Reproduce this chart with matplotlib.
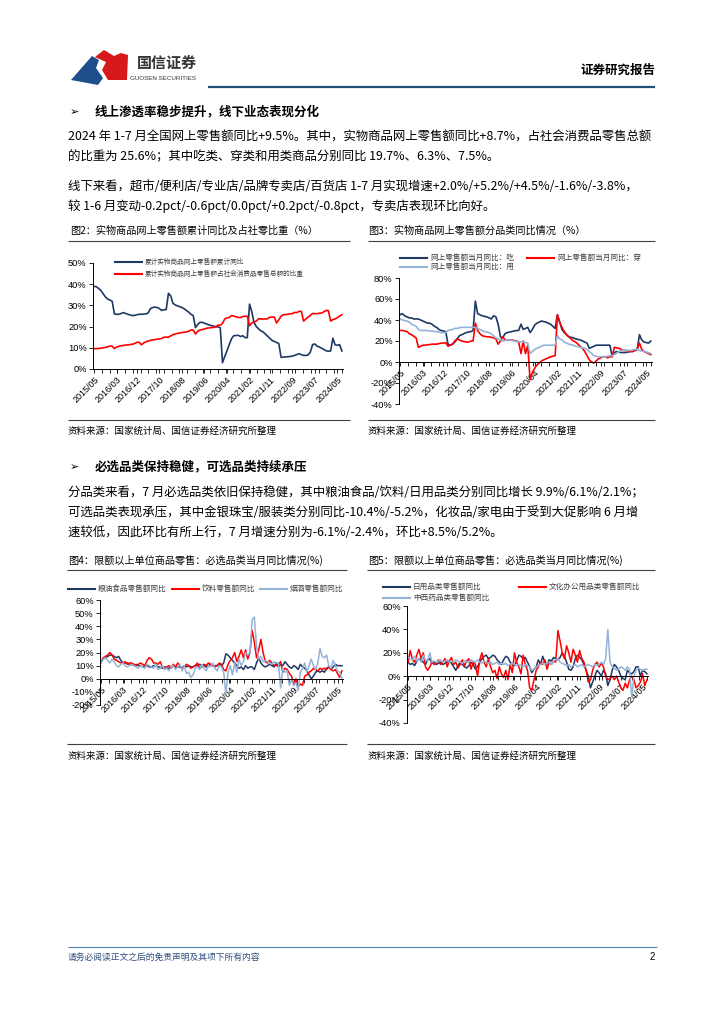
import numpy as np
import matplotlib.pyplot as plt
from matplotlib.patches import Polygon

plt.rcParams['font.family'] = ['Noto Sans CJK SC', 'DejaVu Sans']

# months 2015/05 .. 2024/07
n_months = 111
tick_labels = ['2015/05', '2016/03', '2016/12', '2017/10', '2018/08', '2019/06',
               '2020/04', '2021/02', '2021/11', '2022/09', '2023/07', '2024/05']

# Fig 2: cumulative yoy of online physical goods / share of total retail (%)
online_cum_yoy = [
    39, 38.8, 38, 37, 35.5, 34, 33, 32.5, 32, 26,
    25.8, 25.8, 26.2, 26.6, 26.2, 25.8, 25.5, 25.2, 25.3, 25.6,
    25.8, 25.8, 25.9, 26, 26.4, 28.5, 29, 29.2, 29, 28.5,
    27.6, 28, 28, 35.7, 34.5, 31, 30.2, 29.8, 29.4, 29,
    28.4, 27.6, 26.8, 25.8, 25.2, 19.5, 21, 22, 22, 21.6,
    21.2, 20.8, 20.5, 20.2, 20, 19.8, 19.5, 3, 5.9, 8.6,
    11.5, 14.3, 15.7, 15.8, 15.9, 15.3, 15.7, 14.8, 14.8, 30.6,
    27, 22, 20, 19, 18, 17.5, 16.5, 15.5, 14.5, 13.5,
    13, 12.5, 12, 5.5, 5.6, 5.7, 5.8, 5.9, 6.1, 6.4,
    6.8, 7.2, 6.8, 6.4, 6.4, 6.6, 8, 11.5, 11.8, 10.8,
    10.4, 9.8, 9.2, 8.6, 8.4, 8.5, 14.5, 11.4, 11.2, 11.5, 8.5]
online_share = [
    9.6, 9.6, 9.7, 9.8, 10, 10.2, 10.5, 10.8, 10.8, 9.6,
    10.4, 10.7, 11, 11.1, 11.3, 11.4, 11.5, 11.7, 12, 12.6,
    12.6, 11.4, 12.3, 12.8, 13.2, 13.5, 13.7, 13.9, 14, 14.2,
    14.4, 15, 15, 15, 15.6, 16.2, 16.5, 16.8, 17, 17.2,
    17.3, 17.5, 17.8, 18.4, 18.4, 16.5, 17.8, 18.4, 18.6, 18.9,
    19.2, 19.4, 19.5, 19.6, 19.9, 20.7, 20.7, 21.5, 23.6, 24.1,
    24.3, 25.2, 25, 24.6, 24.3, 24.3, 24.7, 24.9, 24.9, 20.4,
    21.7, 22.2, 22.6, 23.7, 23.6, 23.6, 23.6, 23.7, 24.4, 24.5,
    24.5, 21.7, 23.2, 24.9, 25.6, 25.7, 25.8, 26, 26.1, 26.7,
    26.6, 27.2, 27.2, 22.6, 23.6, 24.5, 25.3, 26.2, 26.1, 26.1,
    26.3, 26.4, 27, 27.6, 27.6, 22.6, 23.3, 23.6, 24.2, 25, 25.6]

# Fig 3: online retail by category (%)
online_eat = [
    45, 46, 44, 43, 42, 42, 41, 41, 41, 40,
    39, 38, 37, 37, 36, 34, 33, 31, 30, 29.5,
    29, 17, 16, 17, 19, 22, 25, 26, 27, 28,
    28.5, 29, 30, 58, 46, 45, 44, 43.5, 43, 42,
    41, 44, 43, 36, 24, 23, 27, 28, 28.5, 29,
    29.5, 30, 30, 36, 31, 32, 33, 28, 31, 35,
    37, 38, 39, 38.5, 38, 37, 36, 34, 32, 45,
    38, 31, 28, 26, 24, 23.5, 23, 22, 21.5, 21,
    20, 19, 18, 13, 14, 15, 16, 16, 16, 16,
    16, 16, 16, 6, 9, 10, 9.5, 9, 9, 9,
    9.5, 10, 10, 11, 12, 26, 21, 19, 18.5, 18, 20]
online_wear = [
    30, 30, 29.5, 29, 27, 26, 24.5, 23, 14, 15,
    16, 16, 16.5, 16.5, 17, 17, 17, 17.5, 18, 18,
    18.5, 15, 16, 17, 20, 22, 21, 20, 19.5, 19,
    19, 20, 20, 37, 30, 27, 25, 24.5, 24, 24,
    23.5, 23, 22, 17, 20, 24, 21, 21, 21, 21,
    20.5, 20, 19, 8, 20, 8, 16, -17, -10, -6,
    -3, -1, 1, 2, 3, 4, 5, 5.5, 6, 45,
    38, 33, 29, 26, 24, 22, 20, 19, 17, 15,
    13, 10, 6, 2, 0, -1, 1, 3, 4, 5,
    5, 4, 5, 5, 14, 13.5, 13, 12, 11, 11,
    10.5, 10, 10, 11, 12, 18, 12, 10, 9, 8, 7]
online_use = [
    41, 40, 39.5, 39, 38, 36, 35, 34, 31, 30,
    30, 30, 30, 29.5, 29.5, 29, 29, 28.5, 28, 28,
    28, 30, 30.5, 31, 32, 32, 32.5, 33, 33, 33,
    33, 33, 33, 33, 32, 31, 30, 29, 28.5, 28,
    27, 25, 23, 22, 21, 20, 20.5, 21, 21, 20.5,
    20, 19.5, 19.5, 19, 19, 18.5, 18, 8, 10, 12,
    13, 14, 15, 16, 16, 16, 16, 16, 16, 25,
    22, 21, 19, 18, 17, 16.5, 16, 15, 14.5, 14,
    13.5, 13, 12, 10, 8, 6, 5.5, 5, 5, 5,
    5, 5.5, 6, 6, 7, 8.5, 10, 11, 11, 11,
    11, 11, 11.5, 12, 12, 11, 10.5, 10, 9.5, 9, 8]

# Fig 4: essentials yoy (%)
grain_food = [
    13, 15, 16, 17, 18, 18, 17, 16, 17, 14,
    12, 12, 12, 11, 11, 10, 11, 10, 10, 9,
    10, 10, 9, 9, 10, 10, 9, 9, 8, 9,
    8, 8, 9, 10, 9, 9, 9, 8, 10, 9,
    10, 9, 9, 10, 10, 11, 10, 10, 9, 10,
    11, 10, 10, 10, 11, 10, 12, 19, 18, 16,
    14, 12, 10, 8, 9, 7, 10, 8, 9, 9,
    7, 12, 16, 12, 10, 9, 10, 11, 10, 9,
    12, 9, 11, 10, 13, 11, 9, 8, 10, 9,
    7, 11, 9, 8, 6, 3, 0, 2, 5, 6,
    5, 6, 5, 8, 9, 7, 9, 11, 10, 10, 9.9]
beverage = [
    13, 16, 17, 18, 20, 18, 15, 14, 13, 12,
    12, 13, 11, 12, 12, 11, 10, 11, 12, 11,
    10, 14, 16, 15, 12, 12, 11, 13, 9, 8,
    9, 10, 8, 11, 9, 12, 10, 8, 9, 11,
    10, 8, 9, 10, 12, 8, 9, 11, 10, 12,
    11, 10, 9, 10, 12, 11, 7, 6, 11, 14,
    16, 20, 13, 17, 22, 16, 22, 15, 20, 37,
    28, 16, 22, 30, 20, 13, 12, 14, 12, 10,
    10, 11, 13, 5, 8, 7, 4, 2, -5, 0,
    -6, -4, -5, 2, 3, 5, 6, 8, 7, 6,
    8, 7, 8, 7, 9, 7, 6, 7, 4, 1, 6.1]
tobacco_liquor = [
    12, 15, 16, 14, 12, 15, 13, 10, 9, 11,
    12, 10, 9, 10, 11, 10, 9, 8, 10, 9,
    8, 11, 10, 9, 8, 11, 7, 8, 10, 7,
    8, 6, 9, 10, 7, 9, 11, 6, 10, 4,
    5, 1, 3, 8, 9, 7, 11, 8, 6, 10,
    9, 12, 8, 6, 10, 9, 5, -12, 5, 10,
    3, 12, 5, 15, 10, 13, 20, 18, 20, 45,
    47, 25, 15, 17, 13, 14, 13, 12, 11, 13,
    12, 12, -7, 8, 5, 6, -5, -1, -5, -3,
    -9, 5, 8, 12, 5, 10, 15, 10, 7, 12,
    23, 17, 16, 18, 10, 8, 14, 10, 6, 5, 0]

# Fig 5 (%)
daily_use = [
    12, 10, 11, 9, 13, 15, 14, 12, 10, 14,
    15, 11, 12, 10, 11, 12, 10, 11, 12, 13,
    11, 8, 5, 9, 12, 10, 8, 7, 9, 12,
    10, 6, 8, 12, 15, 17, 18, 15, 16, 18,
    17, 14, 12, 10, 14, 17, 16, 12, 10, 9,
    13, 18, 17, 15, 16, 12, 8, 3, 6, 8,
    14, 10, 17, 12, 10, 14, 13, 16, 15, 14,
    16, 20, 17, 12, 6, 5, 8, 15, 18, 16,
    14, 10, 5, 0, -10, -5, 0, 5, 3, 0,
    5, 2, -8, -3, 5, 10, 8, 5, 0, -2,
    -3, 5, 3, 2, 4, 8, 8, 0, 5, 4, 2.1]
office_goods = [
    12, 22, 14, 12, 18, 23, 15, 20, 8, 5,
    8, 12, 10, 11, 14, 10, 12, 15, 8, 13,
    16, 10, 12, 7, 10, 14, 9, 13, 15, 6,
    12, 10, 0, 14, 20, 12, 8, 15, 8, 3,
    5, -2, 8, 2, -1, 5, -3, 10, 3, 20,
    12, 8, 2, 18, 10, 5, -10, -12, -3, 5,
    8, 12, 10, 14, 6, 12, 10, 13, 12, 39,
    30, 20, 15, 26, 20, 12, 23, 18, 12, 22,
    15, 12, 5, -5, -3, 5, 10, 12, 8, 11,
    8, 0, -3, -2, 0, -3, 0, -5, -10, -12,
    -6, -10, -3, 0, -3, -10, -8, -5, 2, -8, -3]
medicine = [
    16, 15, 14, 17, 13, 15, 12, 18, 14, 13,
    20, 12, 13, 12, 13, 14, 12, 13, 14, 12,
    13, 12, 14, 13, 12, 11, 13, 12, 12, 14,
    13, 12, 14, 12, 11, 13, 12, 11, 12, 10,
    11, 12, 10, 11, 10, 11, 9, 10, 11, 10,
    9, 10, 9, 8, 10, 9, 8, 5, 6, 8,
    9, 10, 11, 10, 11, 12, 10, 13, 14, 15,
    12, 11, 10, 9, 10, 8, 9, 10, 8, 9,
    10, 8, 9, 10, 9, 8, 10, 9, 10, 12,
    10, 15, 40, 12, 8, 7, 5, 6, 8, 7,
    5, 8, 6, -18, 0, 5, 7, 6, 5, 6, 6]

NAVY = '#1F3864'
RED = '#FF0000'
LIGHT = '#95B3D7'
W, H = 724, 1024

x = np.arange(n_months)
tick_pos = [(int(t[:4]) - 2015) * 12 + int(t[5:]) - 5 for t in tick_labels]
minor_pos = np.linspace(0, n_months - 1, 33)

fig = plt.figure(figsize=(W / 100, H / 100), dpi=100)
page = fig.add_axes([0, 0, 1, 1])
page.axis('off')
page.set_autoscale_on(False)
page.set_xlim(0, W)
page.set_ylim(H, 0)


def put(px, py, s, size=9, **kw):
    kw.setdefault('va', 'center')
    page.text(px, py, s, fontsize=size, **kw)


def hline(x0, x1, y, color='#404040', lw=0.8):
    page.plot([x0, x1], [y, y], color=color, lw=lw, solid_capstyle='butt')


def key(x0, y, color, label, size=5.5, length=27):
    page.plot([x0, x0 + length], [y, y], color=color, lw=1.5)
    put(x0 + length + 3, y, label, size=size, color='#404040')


def chart(x0, x1, ytop, ybot, lo, hi, step):
    ax = fig.add_axes([x0 / W, 1 - ybot / H, (x1 - x0) / W, (ybot - ytop) / H])
    ax.patch.set_alpha(0)
    for s in ['top', 'right']:
        ax.spines[s].set_visible(False)
    # moving the spine resets the ticks, so do it first
    ax.spines['bottom'].set_position(('data', 0))
    for s in ['left', 'bottom']:
        ax.spines[s].set_linewidth(0.7)
    ax.set_xlim(-0.5, n_months - 0.5)
    ax.set_ylim(lo, hi)
    yt = np.arange(lo, hi + 1, step)
    ax.set_yticks(yt, labels=[f'{v:.0f}%' for v in yt])
    ax.set_xticks(tick_pos, labels=tick_labels)
    ax.set_xticks(minor_pos, minor=True)
    ax.tick_params(axis='x', which='both', length=3, width=0.6, pad=1.5)
    ax.tick_params(axis='y', length=3, width=0.6, pad=1.5)
    for lab in ax.get_yticklabels():
        lab.set_fontfamily('Liberation Sans')
        lab.set_fontsize(6.7)
    for lab in ax.get_xticklabels():
        lab.set_fontfamily('Liberation Sans')
        lab.set_fontsize(6.5)
        lab.set_rotation(45)
        lab.set_ha('right')
        lab.set_rotation_mode('anchor')
    return ax


# ---------- header ----------
page.add_patch(Polygon([(71, 80), (92, 56), (99, 60), (96, 68), (103, 78), (98, 85)],
                       closed=True, color='#1F4E8C', lw=0))
page.add_patch(Polygon([(95, 57), (104, 50), (114, 56), (121, 53), (128, 55), (127, 80),
                        (108, 80), (102, 70), (106, 62)], closed=True, color='#D7191C', lw=0))
put(137, 63, '国信证券', size=10.8, weight='bold', color='#333333')
put(130, 78, 'GUOSEN SECURITIES', size=4.5, color='#333333', family='Liberation Sans')
put(655, 70, '证券研究报告', size=9, weight='bold', ha='right')
hline(208, 655, 87, color='#1F4E79', lw=1.6)

# ---------- section 1 ----------
put(70, 112, '➢', size=8, family=['DejaVu Sans'])
put(95, 112, '线上渗透率稳步提升，线下业态表现分化', size=9, weight='bold')
put(68, 137, '2024 年 1-7 月全国网上零售额同比+9.5%。其中，实物商品网上零售额同比+8.7%，占社会消费品零售总额', size=8.95)
put(68, 157, '的比重为 25.6%；其中吃类、穿类和用类商品分别同比 19.7%、6.3%、7.5%。', size=8.95)
put(68, 186, '线下来看，超市/便利店/专业店/品牌专卖店/百货店 1-7 月实现增速+2.0%/+5.2%/+4.5%/-1.6%/-3.8%，', size=8.95)
put(68, 206, '较 1-6 月变动-0.2pct/-0.6pct/0.0pct/+0.2pct/-0.8pct，专卖店表现环比向好。', size=8.95)

# captions fig2 / fig3
put(70, 231, '图2：实物商品网上零售额累计同比及占社零比重（%）', size=7.3)
put(368, 231, '图3：实物商品网上零售额分品类同比情况（%）', size=7.3)
hline(68, 350, 241)
hline(368, 655, 241)

ax2 = chart(93, 343, 263, 369, 0, 50, 10)
ax2.plot(x, online_cum_yoy, color=NAVY, lw=1.2)
ax2.plot(x, online_share, color=RED, lw=1.2)
key(115, 262, NAVY, '累计实物商品网上零售额累计同比', size=4.8)
key(115, 274, RED, '累计实物商品网上零售额占社会消费品零售总额的比重', size=4.8)

ax3 = chart(399, 652, 278, 404, -40, 80, 20)
ax3.plot(x, online_eat, color=NAVY, lw=1.2)
ax3.plot(x, online_wear, color=RED, lw=1.2)
ax3.plot(x, online_use, color=LIGHT, lw=1.2)
key(400, 258, NAVY, '网上零售额当月同比：吃')
key(527, 258, RED, '网上零售额当月同比：穿')
key(400, 267, LIGHT, '网上零售额当月同比：用')

hline(68, 350, 420)
hline(368, 655, 420)
put(68, 431, '资料来源：国家统计局、国信证券经济研究所整理', size=6.8)
put(368, 431, '资料来源：国家统计局、国信证券经济研究所整理', size=6.8)

# ---------- section 2 ----------
put(70, 467, '➢', size=8, family=['DejaVu Sans'])
put(95, 467, '必选品类保持稳健，可选品类持续承压', size=9, weight='bold')
put(68, 493, '分品类来看，7 月必选品类依旧保持稳健，其中粮油食品/饮料/日用品类分别同比增长 9.9%/6.1%/2.1%；', size=8.95)
put(68, 513, '可选品类表现承压，其中金银珠宝/服装类分别同比-10.4%/-5.2%，化妆品/家电由于受到大促影响 6 月增', size=8.95)
put(68, 533, '速较低，因此环比有所上行，7 月增速分别为-6.1%/-2.4%，环比+8.5%/5.2%。', size=8.95)

put(68, 560, '图4：限额以上单位商品零售：必选品类当月同比情况(%)', size=7.3)
put(368, 560, '图5：限额以上单位商品零售：必选品类当月同比情况(%)', size=7.3)
hline(67, 347, 570)
hline(367, 655, 570)

ax4 = chart(100, 343, 600, 705, -20, 60, 10)
ax4.plot(x, grain_food, color=NAVY, lw=1.1)
ax4.plot(x, beverage, color=RED, lw=1.1)
ax4.plot(x, tobacco_liquor, color=LIGHT, lw=1.1)
key(68, 589, NAVY, '粮油食品零售额同比')
key(172, 589, RED, '饮料零售额同比')
key(260, 589, LIGHT, '烟酒零售额同比')

ax5 = chart(407, 648, 606, 723, -40, 60, 20)
ax5.plot(x, daily_use, color=NAVY, lw=1.1)
ax5.plot(x, office_goods, color=RED, lw=1.1)
ax5.plot(x, medicine, color=LIGHT, lw=1.1)
key(383, 587, NAVY, '日用品类零售额同比')
key(519, 587, RED, '文化办公用品类零售额同比')
key(383, 598, LIGHT, '中西药品类零售额同比')

hline(67, 347, 744)
hline(367, 655, 744)
put(68, 756, '资料来源：国家统计局、国信证券经济研究所整理', size=6.8)
put(368, 756, '资料来源：国家统计局、国信证券经济研究所整理', size=6.8)

# ---------- footer ----------
hline(68, 657, 947, color='#4F81BD', lw=0.8)
put(68, 957, '请务必阅读正文之后的免责声明及其项下所有内容', size=6.3, color='#2F4F7F')
put(655, 957, '2', size=7, ha='right', family='Liberation Sans')

fig.savefig('out.png', dpi=100)
